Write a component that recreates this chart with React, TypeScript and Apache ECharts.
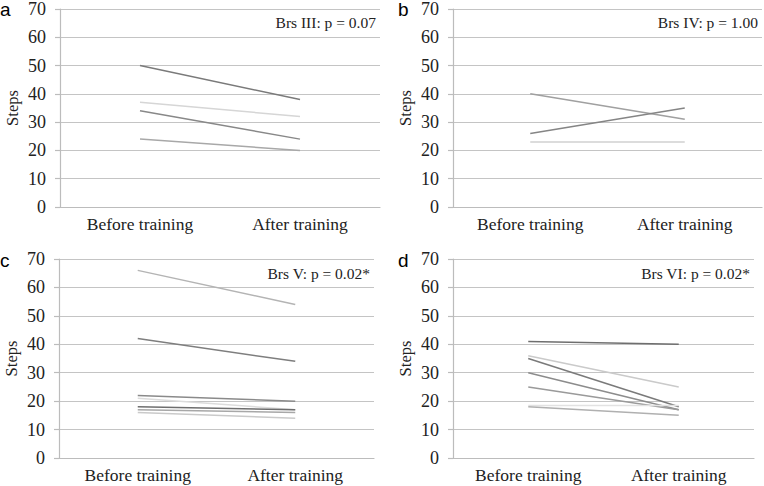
import React, { useEffect, useRef } from "react";
import * as echarts from "echarts";

const categories = ["Before training", "After training"];
const yTicks = [0, 10, 20, 30, 40, 50, 60, 70];

const beforeA = [50, 37, 34, 24];
const afterA = [38, 32, 24, 20];
const beforeB = [40, 26, 23];
const afterB = [31, 35, 23];
const beforeC = [66, 42, 22, 21, 18, 17, 16];
const afterC = [54, 34, 20, 17, 17, 16, 14];
const beforeD = [41, 36, 35, 30, 25, 18.5, 18];
const afterD = [40, 25, 18, 17, 17, 18.5, 15];

const panelLetters = ["a", "b", "c", "d"];
const annotations = ["Brs III: p = 0.07", "Brs IV: p = 1.00", "Brs V: p = 0.02*", "Brs VI: p = 0.02*"];

const colorsA = ["#7a7a7a", "#d6d6d6", "#888888", "#a8a8a8"];
const colorsB = ["#a0a0a0", "#858585", "#d0d0d0"];
const colorsC = ["#b4b4b4", "#7e7e7e", "#8a8a8a", "#dcdcdc", "#6e6e6e", "#a8a8a8", "#cacaca"];
const colorsD = ["#6e6e6e", "#cacaca", "#7a7a7a", "#8c8c8c", "#9a9a9a", "#e2e2e2", "#b0b0b0"];

const grids = [
  { left: 60, top: 8, width: 320, height: 199 },
  { left: 453, top: 8, width: 309, height: 199 },
  { left: 59, top: 259, width: 315, height: 199 },
  { left: 453, top: 259, width: 301, height: 199 },
];
const letterX = [0, 398, 0, 398];

const FONT = "Liberation Serif";

export default function App() {
  const ref = useRef<HTMLDivElement>(null);
  useEffect(() => {
    if (!ref.current) return;
    const chart = echarts.init(ref.current, null, { renderer: "svg" });
    const panels = [
      { b: beforeA, a: afterA, c: colorsA },
      { b: beforeB, a: afterB, c: colorsB },
      { b: beforeC, a: afterC, c: colorsC },
      { b: beforeD, a: afterD, c: colorsD },
    ];
    const series: any[] = [];
    panels.forEach((p, pi) => {
      p.b.forEach((v, i) => {
        series.push({
          type: "line",
          xAxisIndex: pi,
          yAxisIndex: pi,
          data: [v, p.a[i]],
          symbol: "none",
          lineStyle: { color: p.c[i], width: 1.5 },
          silent: true,
        });
      });
    });
    const graphics: any[] = [];
    grids.forEach((g, i) => {
      graphics.push({
        type: "text",
        x: letterX[i],
        y: g.top + 1,
        style: {
          text: panelLetters[i],
          font: "19px 'Liberation Sans'",
          fill: "#000",
          textVerticalAlign: "middle",
        },
      });
      graphics.push({
        type: "text",
        x: g.left + g.width - 4,
        y: g.top + 14,
        style: {
          text: annotations[i],
          font: `15.5px '${FONT}'`,
          fill: "#222",
          textAlign: "right",
          textVerticalAlign: "middle",
        },
      });
    });
    chart.setOption({
      animation: false,
      backgroundColor: "#fff",
      grid: grids.map((g) => ({ ...g, containLabel: false })),
      xAxis: grids.map((_, i) => ({
        type: "category",
        gridIndex: i,
        data: categories,
        boundaryGap: true,
        axisLine: { show: true, lineStyle: { color: "#bcbcbc", width: 1.2 } },
        axisTick: { show: false },
        axisLabel: { fontFamily: FONT, fontSize: 17.5, color: "#222", margin: 8 },
      })),
      yAxis: grids.map((_, i) => ({
        type: "value",
        gridIndex: i,
        min: yTicks[0],
        max: yTicks[yTicks.length - 1],
        interval: 10,
        name: "Steps",
        nameLocation: "middle",
        nameRotate: 90,
        nameGap: 39,
        nameTextStyle: { fontFamily: FONT, fontSize: 16.5, color: "#222" },
        axisLine: { show: true, lineStyle: { color: "#bcbcbc", width: 1.2 } },
        axisTick: { show: true, length: 5, lineStyle: { color: "#bcbcbc", width: 1.2 } },
        axisLabel: { fontFamily: FONT, fontSize: 18, color: "#222", margin: 14 },
        splitLine: { show: true, lineStyle: { color: "#c4c4c4", width: 1.2 } },
      })),
      graphic: graphics,
      series,
    });
    return () => chart.dispose();
  }, []);
  return (
    <div
      ref={ref}
      style={{ position: "fixed", left: 0, top: 0, width: 764, height: 486 }}
    />
  );
}
